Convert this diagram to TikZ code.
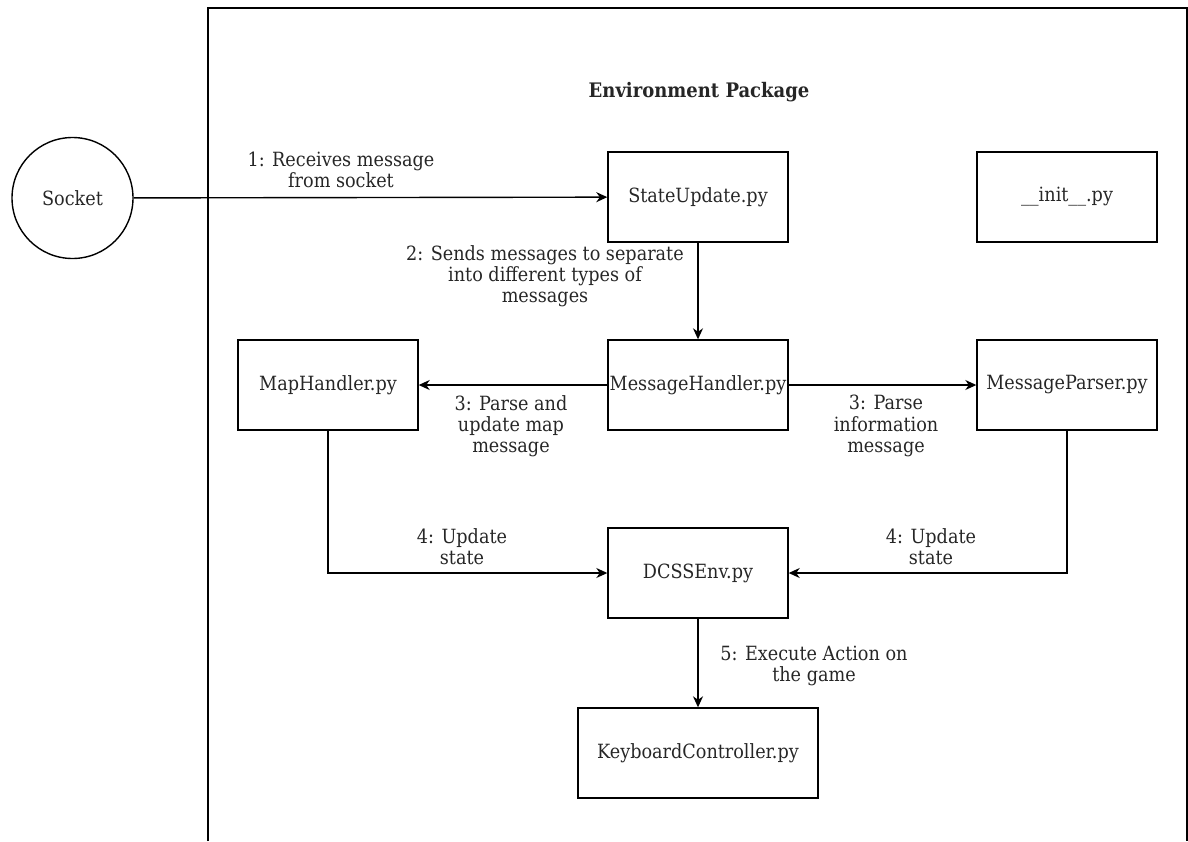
\documentclass[tikz,border=0pt]{standalone}
\usepackage{fontspec}
\setmainfont{DejaVu Serif Condensed}
\usetikzlibrary{arrows.meta}
\begin{document}
\begin{tikzpicture}[x=1pt,y=-1pt,
  line width=1.4pt,
  every node/.style={font=\fontsize{19.6}{21.2}\selectfont, text=black!85},
  module/.style={draw, rectangle, minimum width=180, minimum height=90, inner sep=0pt},
  wide/.style={module, minimum width=240},
  endpoint/.style={draw, circle, minimum size=121, inner sep=0pt},
  note/.style={align=center, inner sep=0pt},
  flow/.style={-{Stealth[length=11pt,width=10pt,inset=3.5pt]}}
]
\useasboundingbox (0,0) rectangle (1188,841);
% package frame, running off the bottom of the page
\draw (208,841) -- (208,8) -- (1187,8) -- (1187,841);
\node[font=\fontsize{20}{21}\selectfont\bfseries] (title) at (699,92) {Environment Package};

\node[endpoint] (socket) at (72.5,198) {Socket};
\node[module] (state) at (698,197) {StateUpdate.py};
\node[module] (init) at (1067,197) {\_\_init\_\_.py};
\node[module] (map) at (328,385) {MapHandler.py};
\node[module] (msg) at (698,385) {MessageHandler.py};
\node[module] (parser) at (1067,385) {MessageParser.py};
\node[module] (env) at (698,573) {DCSSEnv.py};
\node[wide] (kbd) at (698,753) {KeyboardController.py};

\draw[flow] (socket) -- (state);
\draw[flow] (state) -- (msg);
\draw[flow] (msg) -- (map);
\draw[flow] (msg) -- (parser);
\draw[flow] (map.south) |- (env.west);
\draw[flow] (parser.south) |- (env.east);
\draw[flow] (env) -- (kbd);

\node[note] (l1) at (341,170) {1: Receives message\\from socket};
\node[note] (l2) at (545,276) {2: Sends messages to separate\\into different types of\\messages};
\node[note] (l3a) at (511,426) {3: Parse and\\update map\\message};
\node[note] (l3b) at (886,426) {3: Parse\\information\\message};
\node[note] (l4a) at (462,547) {4: Update\\state};
\node[note] (l4b) at (931,547) {4: Update\\state};
\node[note] (l5) at (814,666) {5: Execute Action on\\the game};
\end{tikzpicture}
\end{document}
